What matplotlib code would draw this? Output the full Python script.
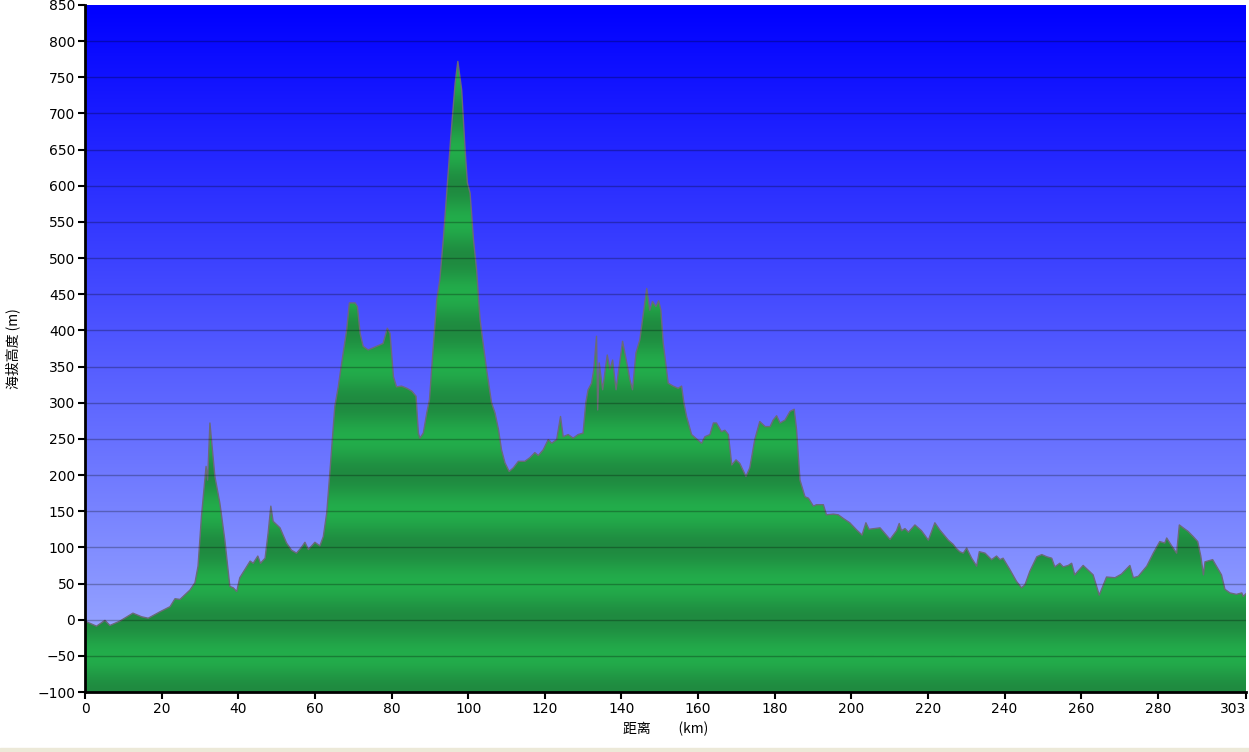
import matplotlib.pyplot as plt
import numpy as np
from matplotlib.colors import LinearSegmentedColormap
from matplotlib.patches import Polygon, Rectangle

# elevation profile (km, m)
dist_km = [0, 3.0, 5.2, 6.5, 9.1, 12.5, 14.8, 16.5, 19.6, 22.2, 23.5, 24.8, 27.4, 28.7,
           29.5, 30.4, 31.6, 32.0, 32.6, 33.9, 35.2, 36.5, 37.8, 38.7, 39.6, 40.4, 43.1,
           43.9, 45.1, 45.8, 47.0, 47.8, 48.5, 49.1, 50.9, 52.6, 53.9, 55.2, 56.5, 57.4,
           58.3, 60.0, 61.3, 62.2, 63.1, 63.9, 65.2, 66.1, 67.0, 68.3, 69.0, 70.5, 71.1,
           71.8, 72.6, 73.9, 74.8, 76.1, 77.8, 78.9, 79.6, 80.5, 81.3, 82.6, 84.0, 85.3,
           86.4, 87.0, 87.4, 88.3, 89.2, 89.9, 90.9, 91.8, 92.6, 93.5, 95.5, 96.6, 97.3,
           98.3, 99.2, 99.8, 100.5, 101.4, 102.2, 103.1, 104.8, 106.1, 107.0, 107.9,
           108.7, 109.6, 110.7, 111.8, 113.1, 114.8, 116.1, 117.4, 118.3, 119.6, 120.9,
           121.8, 123.1, 124.1, 124.8, 126.1, 127.4, 128.7, 130.0, 130.7, 131.3, 132.2,
           132.8, 133.5, 133.8, 134.2, 135.1, 136.3, 137.0, 137.7, 138.6, 139.4, 140.3,
           141.4, 142.2, 142.9, 143.8, 144.8, 145.5, 146.6, 147.4, 148.1, 149.0, 149.7,
           150.3, 150.9, 152.2, 153.5, 154.8, 155.7, 156.3, 157.0, 158.3, 159.6, 160.9,
           161.8, 163.1, 164.0, 164.8, 166.1, 167.0, 167.9, 168.8, 169.9, 170.9, 172.5,
           173.5, 174.8, 176.1, 177.5, 178.8, 179.6, 180.5, 181.4, 182.7, 184.0, 185.1,
           185.7, 186.6, 187.9, 188.8, 190.1, 190.9, 192.7, 193.5, 195.3, 196.6, 197.9,
           199.6, 201.4, 202.8, 203.8, 204.6, 207.5, 210.1, 211.8, 212.5, 213.1, 214.0,
           214.9, 216.6, 218.3, 220.1, 221.8, 223.1, 225.3, 226.6, 227.3, 228.3, 229.2,
           230.1, 231.4, 232.7, 233.4, 234.9, 236.6, 237.9, 238.8, 239.6, 241.4, 243.1,
           244.4, 245.3, 246.6, 248.4, 249.7, 251.0, 252.3, 253.1, 254.4, 255.3, 256.6,
           257.5, 258.3, 260.5, 263.1, 264.7, 266.6, 268.8, 270.5, 272.7, 273.6, 274.9,
           277.1, 278.8, 280.5, 281.8, 282.3, 283.6, 284.9, 285.6, 286.6, 287.9, 289.2,
           290.4, 291.2, 291.9, 292.3, 293.6, 294.3, 295.3, 296.6, 297.5, 298.8, 300.5,
           301.9, 302.3, 303.0]
elev_m = [-2, -9, -1, -8, -2, 9, 4, 2, 11, 18, 29, 28, 41, 51,
          74, 143, 212, 193, 272, 198, 161, 110, 46, 44, 39, 58, 81,
          78, 88, 78, 85, 120, 157, 136, 127, 106, 96, 92, 100, 107,
          97, 107, 102, 115, 148, 203, 295, 322, 355, 401, 438, 438, 433,
          396, 378, 373, 375, 378, 382, 403, 396, 336, 322, 323, 320, 316,
          309, 258, 251, 258, 286, 304, 378, 442, 470, 525, 670, 742, 772,
          733, 650, 604, 590, 525, 484, 415, 346, 300, 286, 263,
          235, 217, 205, 210, 219, 219, 224, 231, 227, 235, 249,
          244, 249, 281, 253, 256, 251, 256, 258, 300, 318, 327,
          346, 392, 290, 355, 318, 366, 346, 359, 318, 349, 385,
          355, 332, 318, 369, 387, 415, 458, 428, 440, 433, 441,
          428, 383, 327, 323, 320, 323, 300, 281, 256, 250, 244,
          253, 256, 272, 272, 260, 262, 256, 214, 221, 216, 198,
          210, 249, 274, 267, 267, 276, 282, 272, 276, 288, 291,
          263, 193, 170, 168, 157, 159, 159, 145, 146, 145, 140,
          134, 124, 117, 134, 125, 127, 111, 123, 133, 123, 126,
          121, 131, 123, 110, 134, 124, 110, 104, 99, 94, 92,
          99, 85, 74, 94, 92, 83, 88, 83, 85, 69, 53,
          44, 48, 67, 87, 90, 87, 85, 73, 78, 73, 75,
          78, 62, 75, 62, 34, 59, 58, 63, 75, 58, 60,
          74, 92, 108, 106, 113, 102, 92, 131, 127, 122, 115,
          108, 88, 62, 80, 82, 83, 74, 62, 42, 37, 35,
          37, 32, 36]

x_ticks = [0, 20, 40, 60, 80, 100, 120, 140, 160, 180, 200, 220, 240, 260, 280, 303]
y_ticks = list(range(-100, 851, 50))

plt.rcParams['font.family'] = ['DejaVu Sans', 'Noto Sans CJK SC']

fig = plt.figure(figsize=(12.49, 7.52), dpi=100)
ax = fig.add_axes([85 / 1249, 60 / 752, 1161 / 1249, 687 / 752])

xmin, xmax, ymin, ymax = 0, 303, -100, 850

# sky gradient
sky = LinearSegmentedColormap.from_list('sky', ['#a3b2ff', '#0000ff'])
ax.imshow(np.linspace(0, 1, 256).reshape(-1, 1), cmap=sky, origin='lower',
          extent=(xmin, xmax, ymin, ymax), aspect='auto', zorder=0)

# banded green fill clipped to the profile
yy = np.linspace(ymin, ymax, 1901)
band = 0.5 - 0.5 * np.cos(2 * np.pi * (yy % 100) / 100)
greens = LinearSegmentedColormap.from_list('gr', ['#1f8a40', '#23ad4b'])
img = ax.imshow(band.reshape(-1, 1), cmap=greens, origin='lower',
                extent=(xmin, xmax, ymin, ymax), aspect='auto', zorder=1)
verts = [(dist_km[0], ymin)] + list(zip(dist_km, elev_m)) + [(dist_km[-1], ymin)]
poly = Polygon(verts, closed=True, facecolor='none', edgecolor='none',
               transform=ax.transData)
ax.add_patch(poly)
img.set_clip_path(poly)

ax.plot(dist_km, elev_m, color='#6a6a78', lw=1, zorder=2)

for y in y_ticks[1:-1]:
    ax.axhline(y, color='black', alpha=0.27, lw=1, zorder=3)

ax.set_xlim(xmin, xmax)
ax.set_ylim(ymin, ymax)
ax.set_xticks(x_ticks)
ax.set_yticks(y_ticks)
ax.tick_params(direction='out', length=5, width=1.5, labelsize=10, pad=2)
ax.get_xticklabels()[-1].set_horizontalalignment('right')

for s in ['top', 'right']:
    ax.spines[s].set_visible(False)
for s in ['left', 'bottom']:
    ax.spines[s].set_linewidth(2)

ax.set_xlabel('距离　　(km)', fontsize=10, family=['Noto Sans CJK SC', 'DejaVu Sans'],
              labelpad=4)
ax.set_ylabel('海拔高度 (m)', fontsize=10, family=['Noto Sans CJK SC', 'DejaVu Sans'],
              labelpad=12)

fig.patches.append(Rectangle((0, 0), 1, 4 / 752, transform=fig.transFigure,
                             color='#ece9d8', zorder=0))

plt.savefig('out.png', dpi=100)
